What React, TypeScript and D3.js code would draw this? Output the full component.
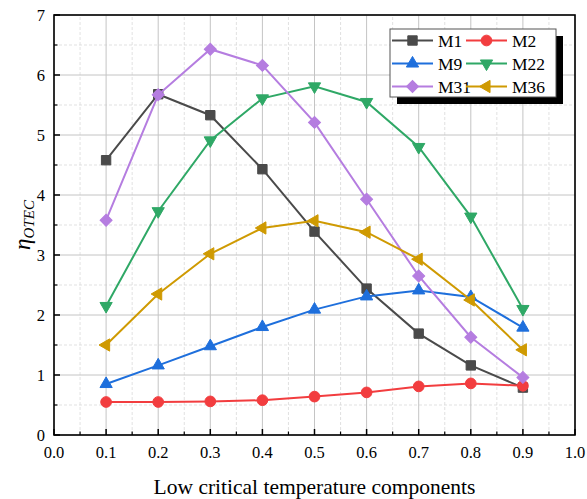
import * as d3 from "d3";

const fractions = [0.1, 0.2, 0.3, 0.4, 0.5, 0.6, 0.7, 0.8, 0.9];
const m1 = [4.58, 5.68, 5.33, 4.43, 3.39, 2.44, 1.69, 1.16, 0.79];
const m2 = [0.55, 0.55, 0.56, 0.58, 0.64, 0.71, 0.81, 0.86, 0.82];
const m9 = [0.85, 1.16, 1.48, 1.8, 2.09, 2.31, 2.41, 2.3, 1.79];
const m22 = [2.15, 3.73, 4.91, 5.61, 5.81, 5.55, 4.8, 3.64, 2.1];
const m31 = [3.58, 5.67, 6.43, 6.16, 5.21, 3.93, 2.65, 1.63, 0.96];
const m36 = [1.5, 2.35, 3.02, 3.45, 3.57, 3.38, 2.93, 2.25, 1.42];
const xTickLabels = ["0.0", "0.1", "0.2", "0.3", "0.4", "0.5", "0.6", "0.7", "0.8", "0.9", "1.0"];
const yTickLabels = ["0", "1", "2", "3", "4", "5", "6", "7"];

type Shape = "square" | "circle" | "up" | "down" | "diamond" | "left";

const SERIES: { name: string; values: number[]; color: string; shape: Shape }[] = [
  { name: "M1", values: m1, color: "#4a4a4a", shape: "square" },
  { name: "M2", values: m2, color: "#f23d3f", shape: "circle" },
  { name: "M9", values: m9, color: "#1e6fdc", shape: "up" },
  { name: "M22", values: m22, color: "#2fa866", shape: "down" },
  { name: "M31", values: m31, color: "#b57de0", shape: "diamond" },
  { name: "M36", values: m36, color: "#cf9a02", shape: "left" },
];

const W = 587;
const H = 499;
const M = { top: 15, right: 12, bottom: 64, left: 54 };
const FONT = "'Liberation Serif', 'Times New Roman', serif";

const x = d3.scaleLinear().domain([0, 1]).range([M.left, W - M.right]);
const y = d3.scaleLinear().domain([0, 7]).range([H - M.bottom, M.top]);

function markerPath(shape: Shape) {
  const sym = d3.symbol();
  switch (shape) {
    case "square":
      return { d: sym.type(d3.symbolSquare).size(88)()!, rot: 0 };
    case "circle":
      return { d: sym.type(d3.symbolCircle).size(90)()!, rot: 0 };
    case "up":
      return { d: sym.type(d3.symbolTriangle).size(65)()!, rot: 0 };
    case "down":
      return { d: sym.type(d3.symbolTriangle).size(65)()!, rot: 180 };
    case "diamond":
      return { d: sym.type(d3.symbolSquare).size(72)()!, rot: 45 };
    case "left":
      return { d: sym.type(d3.symbolTriangle).size(65)()!, rot: -90 };
  }
}

function Marker({ cx, cy, shape, color }: { cx: number; cy: number; shape: Shape; color: string }) {
  const m = markerPath(shape);
  return <path d={m.d} transform={`translate(${cx},${cy}) rotate(${m.rot})`} fill={color} stroke={color} strokeWidth={1} />;
}

export default function App() {
  const majorX = d3.range(0, 11).map((i) => i / 10);
  const minorX = d3.range(0, 10).map((i) => i / 10 + 0.05);
  const majorY = d3.range(0, 8);
  const minorY = d3.range(0, 7).map((i) => i + 0.5);
  const [x0, x1] = x.range();
  const [y0, y1] = y.range();

  const line = d3
    .line<number>()
    .x((_, i) => x(fractions[i]))
    .y((d) => y(d));

  const legendX = 390;
  const legendY = 29;
  const legendW = 166;
  const legendH = 68;

  return (
    <svg width={W} height={H} style={{ position: "absolute", left: 0, top: 0, background: "#fff" }} fontFamily={FONT}>
      <rect width={W} height={H} fill="#fff" />
      {/* grid */}
      {minorX.map((v) => (
        <line key={"mx" + v} x1={x(v)} x2={x(v)} y1={y0} y2={y1} stroke="#d9d9d9" strokeWidth={0.8} strokeDasharray="3,2" />
      ))}
      {minorY.map((v) => (
        <line key={"my" + v} x1={x0} x2={x1} y1={y(v)} y2={y(v)} stroke="#d9d9d9" strokeWidth={0.8} strokeDasharray="3,2" />
      ))}
      {majorX.map((v) => (
        <line key={"gx" + v} x1={x(v)} x2={x(v)} y1={y0} y2={y1} stroke="#c4c4c4" strokeWidth={1} />
      ))}
      {majorY.map((v) => (
        <line key={"gy" + v} x1={x0} x2={x1} y1={y(v)} y2={y(v)} stroke="#c4c4c4" strokeWidth={1} />
      ))}

      {/* series */}
      {SERIES.map((s) => (
        <g key={s.name}>
          <path d={line(s.values)!} fill="none" stroke={s.color} strokeWidth={2} />
          {s.values.map((v, i) => (
            <Marker key={i} cx={x(fractions[i])} cy={y(v)} shape={s.shape} color={s.color} />
          ))}
        </g>
      ))}

      {/* frame */}
      <rect x={x0} y={y1} width={x1 - x0} height={y0 - y1} fill="none" stroke="#000" strokeWidth={1.6} />

      {/* ticks */}
      {majorX.map((v, i) => (
        <g key={"tx" + v}>
          <line x1={x(v)} x2={x(v)} y1={y0} y2={y0 - 6} stroke="#000" strokeWidth={1.5} />
          <text x={x(v)} y={y0 + 23} textAnchor="middle" fontSize={16.5} fill="#000">
            {xTickLabels[i]}
          </text>
        </g>
      ))}
      {minorX.map((v) => (
        <line key={"tmx" + v} x1={x(v)} x2={x(v)} y1={y0} y2={y0 - 3.5} stroke="#000" strokeWidth={1.2} />
      ))}
      {majorY.map((v, i) => (
        <g key={"ty" + v}>
          <line x1={x0} x2={x0 + 6} y1={y(v)} y2={y(v)} stroke="#000" strokeWidth={1.5} />
          <text x={x0 - 9} y={y(v) + 5.5} textAnchor="end" fontSize={16.5} fill="#000">
            {yTickLabels[i]}
          </text>
        </g>
      ))}
      {minorY.map((v) => (
        <line key={"tmy" + v} x1={x0} x2={x0 + 3.5} y1={y(v)} y2={y(v)} stroke="#000" strokeWidth={1.2} />
      ))}

      {/* axis titles */}
      <text x={(x0 + x1) / 2} y={494} textAnchor="middle" fontSize={21.5} fill="#000">
        Low critical temperature components
      </text>
      <text transform={`translate(30,${(y0 + y1) / 2}) rotate(-90)`} textAnchor="middle" fontSize={23} fill="#000" fontStyle="italic">
        η<tspan fontSize={15} dy={4}>OTEC</tspan>
      </text>

      {/* legend */}
      <rect x={legendX + 7} y={legendY + 7} width={legendW} height={legendH} fill="#000" />
      <rect x={legendX} y={legendY} width={legendW} height={legendH} fill="#fff" stroke="#555" strokeWidth={1} />
      {SERIES.map((s, i) => {
        const col = i % 2;
        const row = Math.floor(i / 2);
        const lx = legendX + 2 + col * 74;
        const ly = legendY + 11.5 + row * 23;
        return (
          <g key={"lg" + s.name}>
            <line x1={lx} x2={lx + 41} y1={ly} y2={ly} stroke={s.color} strokeWidth={2} />
            <Marker cx={lx + 20.5} cy={ly} shape={s.shape} color={s.color} />
            <text x={lx + 46} y={ly + 6} fontSize={17.5} fill="#000">
              {s.name}
            </text>
          </g>
        );
      })}
    </svg>
  );
}
